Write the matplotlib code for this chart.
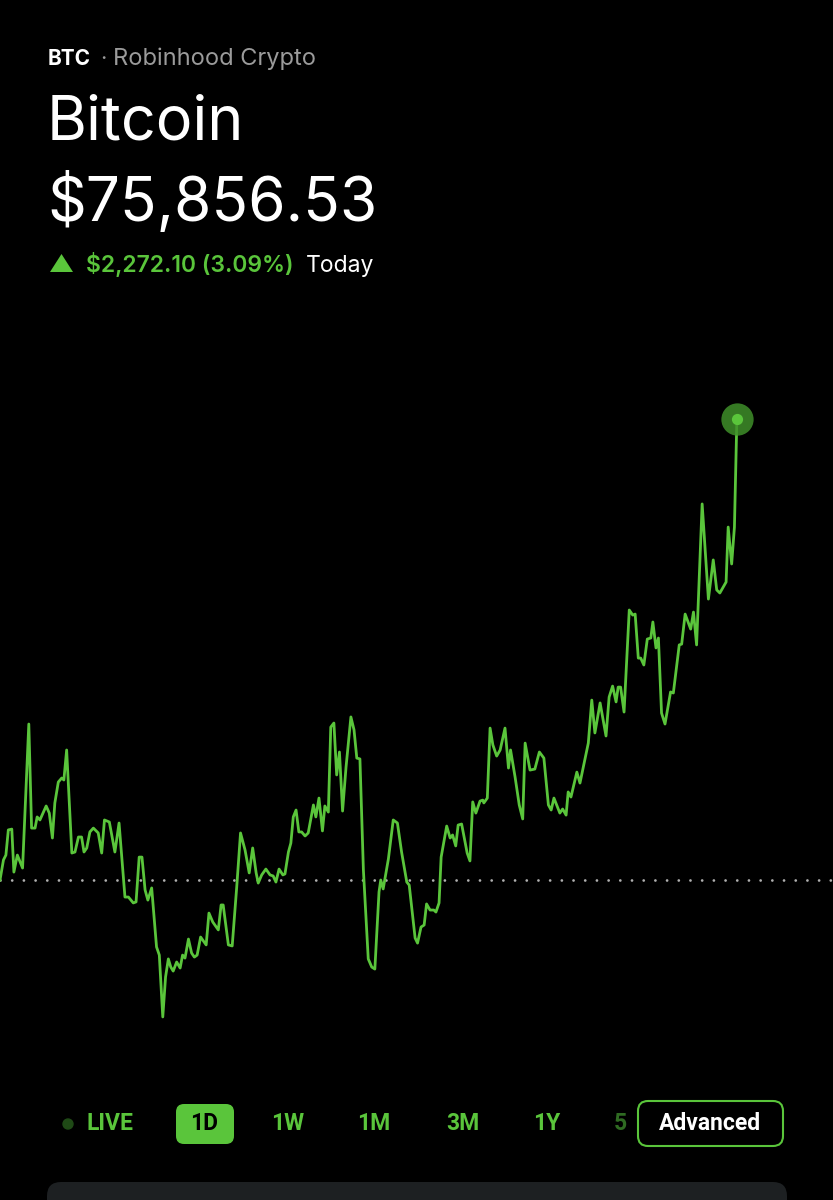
import matplotlib.pyplot as plt
from matplotlib.patches import FancyBboxPatch, Circle, Polygon

# --- data -----------------------------------------------------------------
ticker = "BTC"
exchange = "Robinhood Crypto"
name = "Bitcoin"
last_price = 75856.53
change = 2272.10
change_pct = 3.09
prev_close = last_price - change

# hours since midnight (24h session)
hours = [0.00, 0.10, 0.17, 0.24, 0.34, 0.40, 0.50, 0.65, 0.83, 0.91, 1.01, 1.07, 1.15, 1.33, 1.42,
         1.51, 1.58, 1.68, 1.78, 1.84, 1.92, 2.07, 2.16, 2.26, 2.35, 2.42, 2.50, 2.59, 2.69, 2.83,
         2.93, 3.01, 3.15, 3.31, 3.43, 3.60, 3.70, 3.84, 3.92, 4.01, 4.09, 4.18, 4.26, 4.37, 4.51,
         4.59, 4.69, 4.77, 4.85, 4.92, 4.99, 5.09, 5.19, 5.26, 5.33, 5.43, 5.52, 5.60, 5.68, 5.78,
         5.94, 6.02, 6.13, 6.29, 6.37, 6.43, 6.58, 6.69, 6.82, 6.93, 7.06, 7.18, 7.28, 7.38, 7.44,
         7.54, 7.66, 7.78, 7.87, 7.95, 8.04, 8.15, 8.21, 8.31, 8.38, 8.45, 8.53, 8.61, 8.69, 8.79,
         8.88, 9.03, 9.10, 9.19, 9.29, 9.36, 9.46, 9.53, 9.62, 9.70, 9.78, 9.87, 9.97, 10.11, 10.20,
         10.28, 10.37, 10.47, 10.61, 10.71, 10.80, 10.92, 10.97, 11.04, 11.19, 11.33, 11.45, 11.57,
         11.72, 11.79, 11.96, 12.03, 12.13, 12.22, 12.29, 12.39, 12.50, 12.56, 12.65, 12.71, 12.87,
         12.97, 13.04, 13.13, 13.20, 13.30, 13.46, 13.54, 13.62, 13.71, 13.83, 13.91, 13.94, 14.04,
         14.12, 14.20, 14.31, 14.41, 14.55, 14.65, 14.71, 14.84, 14.96, 15.06, 15.13, 15.27, 15.41,
         15.54, 15.67, 15.80, 15.88, 15.96, 16.13, 16.21, 16.31, 16.37, 16.45, 16.62, 16.71, 16.95,
         17.05, 17.14, 17.29, 17.46, 17.55, 17.65, 17.75, 17.81, 17.88, 17.98, 18.13, 18.23, 18.30,
         18.39, 18.46, 18.55, 18.65, 18.75, 18.81, 18.90, 18.97, 19.06, 19.16, 19.32, 19.40, 19.57,
         19.64, 19.74, 19.90, 19.98, 20.07, 20.23, 20.41, 20.55, 20.65, 20.74, 20.92, 20.98, 21.08,
         21.16, 21.23]

prices = [73584, 73683, 73707, 73831, 73835, 73623, 73707, 73643, 74353, 73840, 73840, 73895, 73880,
          73949, 73914, 73791, 73964, 74067, 74087, 74077, 74225, 73717, 73722, 73796, 73796, 73722,
          73742, 73821, 73840, 73816, 73717, 73880, 73870, 73722, 73865, 73500, 73500, 73471, 73476,
          73697, 73697, 73535, 73485, 73545, 73254, 73214, 72909, 73106, 73195, 73155, 73135, 73180,
          73150, 73214, 73199, 73293, 73224, 73204, 73214, 73303, 73264, 73421, 73377, 73338, 73461,
          73461, 73264, 73259, 73549, 73816, 73732, 73619, 73742, 73619, 73569, 73609, 73638, 73609,
          73604, 73574, 73638, 73609, 73614, 73722, 73766, 73895, 73929, 73821, 73821, 73801, 73816,
          73954, 73895, 73988, 73826, 73949, 73919, 74338, 74358, 74102, 74215, 73924, 74141, 74388,
          74324, 74185, 74181, 73633, 73195, 73155, 73145, 73525, 73584, 73540, 73688, 73880, 73865,
          73722, 73574, 73559, 73298, 73273, 73352, 73362, 73466, 73436, 73436, 73426, 73471, 73697,
          73850, 73791, 73806, 73752, 73855, 73860, 73717, 73678, 73969, 73914, 73973, 73978, 73964,
          73988, 74333, 74250, 74195, 74225, 74333, 74136, 74225, 74092, 73954, 73885, 74259, 74126,
          74131, 74215, 74185, 73954, 73929, 73988, 73914, 73934, 73904, 74018, 73993, 74116, 74062,
          74259, 74471, 74309, 74457, 74294, 74486, 74540, 74462, 74535, 74535, 74412, 74915, 74890,
          74895, 74678, 74678, 74644, 74772, 74777, 74856, 74728, 74777, 74407, 74353, 74511, 74506,
          74743, 74747, 74895, 74821, 74905, 74743, 75438, 74969, 75162, 75014, 74999, 75053, 75324,
          75142, 75324, 75856.53]

ranges = ["1D", "1W", "1M", "3M", "1Y"]

GREEN = "#5ac53b"
FONT = "Inter"

W, H = 833, 1200
fig = plt.figure(figsize=(W / 100, H / 100), dpi=100, facecolor="black")

# --- price chart ----------------------------------------------------------
ax = fig.add_axes([0, 1 - 1050 / H, 1, 670 / H])
ax.set_facecolor("black")
ax.plot(hours, prices, color=GREEN, lw=2.0, solid_joinstyle="round", zorder=3)
ax.axhline(prev_close, color="#b0b0b0", lw=2.0, linestyle=(0, (0.01, 4.2)),
           dash_capstyle="round", zorder=2)
ax.scatter([hours[-1]], [prices[-1]], s=540, color="#3f8f2a", alpha=0.85, zorder=4, lw=0)
ax.scatter([hours[-1]], [prices[-1]], s=65, color=GREEN, zorder=5, lw=0)
ax.set_xlim(0, 24)
ax.set_ylim(72746, 76049)
ax.axis("off")

# --- overlay in pixel coords for the app ui ------------------------------
ui = fig.add_axes([0, 0, 1, 1], zorder=-1)
ui.set_xlim(0, W)
ui.set_ylim(H, 0)
ui.axis("off")

ui.text(48, 65, ticker, color="white", fontsize=15, fontweight="bold", family=FONT, va="baseline")
ui.text(103, 65, "·", color="#9b9b9b", fontsize=16, family=FONT, va="baseline", ha="center")
ui.text(113, 65, exchange, color="#9b9b9b", fontsize=17, family=FONT, va="baseline")
ui.text(47, 140, name, color="white", fontsize=44, family=FONT, va="baseline")
ui.text(47, 221, f"${last_price:,.2f}", color="white", fontsize=43.5, family=FONT, va="baseline")

ui.add_patch(Polygon([[50, 272], [73, 272], [61.5, 254]], closed=True, color=GREEN, lw=0))
ui.text(86, 272, f"${change:,.2f} ({change_pct:.2f}%)", color=GREEN, fontsize=16.5,
        fontweight="semibold", family=FONT, va="baseline")
ui.text(306, 272, "Today", color="white", fontsize=16.5, family=FONT, va="baseline")

# --- range selector -------------------------------------------------------
btn_y = 1124
ui.add_patch(Circle((68, btn_y), 5, color="#1f4a16"))
ui.text(87, btn_y, "LIVE", color=GREEN, fontsize=16.5, fontweight="bold", family="Roboto",
        va="center", ha="left")
ui.add_patch(FancyBboxPatch((176, 1104), 58, 40, boxstyle="round,pad=0,rounding_size=8",
                            color=GREEN, lw=0))
xs = [204, 288, 374, 463, 547]
for lab, x in zip(ranges, xs):
    ui.text(x, btn_y, lab, color="black" if lab == "1D" else GREEN, fontsize=16.5,
            fontweight="bold", family="Roboto", va="center", ha="center")
ui.text(620, btn_y, "5", color="#2f6b22", fontsize=16.5, fontweight="bold", family="Roboto",
        va="center", ha="center")
ui.add_patch(FancyBboxPatch((638, 1101), 145, 45, boxstyle="round,pad=0,rounding_size=10",
                            facecolor="black", edgecolor=GREEN, lw=1.5))
ui.text(710, btn_y, "Advanced", color="white", fontsize=16.5, fontweight="bold", family="Roboto",
        va="center", ha="center")

ui.add_patch(FancyBboxPatch((47, 1182), 740, 60, boxstyle="round,pad=0,rounding_size=14",
                            color="#1d2022", lw=0))

fig.savefig("out.png", dpi=100, facecolor="black")
